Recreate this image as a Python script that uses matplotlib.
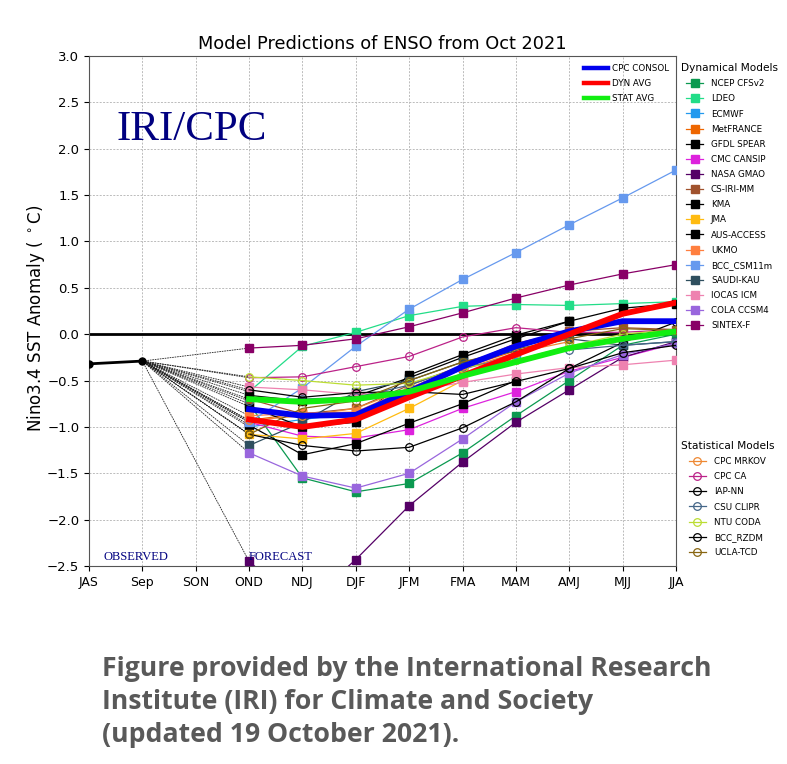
import matplotlib
matplotlib.use('Agg')
import matplotlib.pyplot as plt
import numpy as np

seasons = ['JAS', 'Sep', 'SON', 'OND', 'NDJ', 'DJF', 'JFM', 'FMA', 'MAM', 'AMJ', 'MJJ', 'JJA']
observed = [-0.32, -0.29]
nan = np.nan

# forecast values, OND through JJA
ncep = [-0.75, -1.55, -1.70, -1.61, -1.28, -0.88, -0.50, -0.12, 0.00]
ldeo = [-0.62, -0.13, 0.02, 0.20, 0.30, 0.32, 0.31, 0.33, 0.35]
ecmwf = [-1.00, -0.92, -0.85, -0.60, -0.38, -0.22, nan, nan, nan]
metfrance = [-0.93, -0.85, -0.88, -0.60, -0.36, -0.18, nan, nan, nan]
gfdl = [-0.78, -1.00, -0.95, -0.44, -0.22, -0.01, 0.14, 0.28, 0.33]
cansip = [-0.95, -1.10, -1.12, -1.03, -0.80, -0.62, -0.40, -0.25, -0.10]
gmao = [-2.45, -2.95, -2.43, -1.85, -1.38, -0.95, -0.60, -0.25, -0.08]
csiri = [-0.70, -0.86, -0.80, -0.55, -0.34, -0.10, 0.03, 0.07, 0.05]
kma = [-0.98, -1.30, -1.18, -0.96, -0.75, -0.50, nan, nan, nan]
jma = [-1.08, -1.13, -1.07, -0.80, -0.50, nan, nan, nan, nan]
access = [-0.66, -0.72, -0.67, -0.47, -0.25, -0.05, 0.14, nan, nan]
ukmo = [-0.88, -0.85, -0.84, -0.58, -0.35, nan, nan, nan, nan]
bcc_csm = [-0.95, -0.58, -0.13, 0.27, 0.59, 0.88, 1.18, 1.47, 1.77]
saudi = [-1.20, -0.95, -0.62, -0.50, -0.30, -0.18, -0.05, -0.12, -0.08]
iocas = [-0.57, -0.60, -0.65, -0.62, -0.52, -0.43, -0.36, -0.33, -0.28]
cola = [-1.28, -1.53, -1.66, -1.50, -1.13, -0.73, -0.42, -0.22, -0.10]
sintex = [-0.15, -0.12, -0.05, 0.08, 0.23, 0.39, 0.53, 0.65, 0.75]

mrkov = [-0.93, -0.88, -0.80, -0.58, -0.38, -0.20, -0.08, nan, nan]
cpc_ca = [-0.47, -0.46, -0.35, -0.24, -0.03, 0.07, 0.02, 0.02, 0.05]
iap = [-1.08, -1.20, -1.26, -1.22, -1.01, -0.73, -0.37, -0.09, 0.13]
clipr = [-0.72, -0.70, -0.68, -0.55, -0.35, -0.28, -0.17, -0.12, -0.08]
coda = [-0.46, -0.50, -0.55, -0.53, -0.36, -0.28, -0.13, 0.00, 0.05]
rzdm = [-0.60, -0.68, -0.63, -0.62, -0.65, -0.51, -0.37, -0.20, -0.12]
ucla = [-1.08, -0.80, -0.72, -0.50, -0.30, -0.16, -0.05, 0.06, 0.04]

consol = [-0.81, -0.88, -0.87, -0.62, -0.35, -0.13, 0.03, 0.14, 0.14]
dyn_avg = [-0.92, -1.00, -0.92, -0.68, -0.45, -0.22, 0.00, 0.22, 0.34]
stat_avg = [-0.70, -0.73, -0.70, -0.62, -0.45, -0.30, -0.15, -0.05, 0.03]

dyn_models = [
    ('NCEP CFSv2', ncep, '#0b9950'), ('LDEO', ldeo, '#22dd88'), ('ECMWF', ecmwf, '#2299ee'),
    ('MetFRANCE', metfrance, '#ee6600'), ('GFDL SPEAR', gfdl, '#000000'), ('CMC CANSIP', cansip, '#dd22dd'),
    ('NASA GMAO', gmao, '#550066'), ('CS-IRI-MM', csiri, '#a0522d'), ('KMA', kma, '#000000'),
    ('JMA', jma, '#ffbb11'), ('AUS-ACCESS', access, '#000000'), ('UKMO', ukmo, '#ff7f3f'),
    ('BCC_CSM11m', bcc_csm, '#6699ee'), ('SAUDI-KAU', saudi, '#2f4f5f'), ('IOCAS ICM', iocas, '#ee82b0'),
    ('COLA CCSM4', cola, '#9966dd'), ('SINTEX-F', sintex, '#880066'),
]
stat_models = [
    ('CPC MRKOV', mrkov, '#ee8833'), ('CPC CA', cpc_ca, '#bb2288'), ('IAP-NN', iap, '#000000'),
    ('CSU CLIPR', clipr, '#446688'), ('NTU CODA', coda, '#bbdd33'), ('BCC_RZDM', rzdm, '#000000'),
    ('UCLA-TCD', ucla, '#886611'),
]
averages = [('CPC CONSOL', consol, '#0000ee'), ('DYN AVG', dyn_avg, '#ff0000'), ('STAT AVG', stat_avg, '#11ee11')]

x = np.arange(len(seasons))
x_fc = x[3:]

plt.rcParams['axes.edgecolor'] = '#555555'

fig = plt.figure(figsize=(7.87, 7.64), dpi=100)
ax = fig.add_axes([89 / 787, 198 / 764, 587 / 787, 510 / 764])

dyn_handles = []
stat_handles = []
for name, vals, col in dyn_models:
    ax.plot([x[1], x_fc[0]], [observed[1], vals[0]], color='#222222', lw=0.6, ls=(0, (2, 1)), zorder=2)
    h, = ax.plot(x_fc, vals, color=col, lw=0.9, marker='s', ms=5.3, label=name, zorder=3)
    dyn_handles.append(h)
for name, vals, col in stat_models:
    ax.plot([x[1], x_fc[0]], [observed[1], vals[0]], color='#222222', lw=0.6, ls=(0, (2, 1)), zorder=2)
    h, = ax.plot(x_fc, vals, color=col, lw=0.9, marker='o', ms=5.5, mfc='none', mew=0.9, label=name, zorder=4)
    stat_handles.append(h)

avg_handles = []
for name, vals, col in averages:
    h, = ax.plot(x_fc, vals, color=col, lw=4.2, label=name, zorder=5)
    avg_handles.append(h)

ax.plot(x[:2], observed, color='k', lw=2, marker='o', ms=5, zorder=5)
ax.axhline(0, color='k', lw=2, zorder=2.5)

ax.set_xlim(0, 11)
ax.set_ylim(-2.5, 3.0)
ax.set_xticks(x)
ax.set_xticklabels(seasons, fontsize=9)
ax.set_yticks(np.arange(-2.5, 3.01, 0.5))
ax.tick_params(axis='y', labelsize=9.5)
ax.grid(True, color='#bbbbbb', ls=(0, (2, 1.5)), lw=0.7)
ax.set_axisbelow(True)
ax.set_ylabel(r'Nino3.4 SST Anomaly ( $^\circ$C)', fontsize=12)
ax.yaxis.set_label_coords(-0.072, 0.486)
ax.set_title('Model Predictions of ENSO from Oct 2021', fontsize=12.8, pad=5)

ax.text(0.28, -2.43, 'OBSERVED', family='Liberation Serif', fontsize=9, color='#000080')
ax.text(3.0, -2.43, 'FORECAST', family='Liberation Serif', fontsize=9, color='#000080')
ax.text(0.52, 2.09, 'IRI/CPC', family='Liberation Serif', fontsize=31, color='#000080')

leg_avg = ax.legend(handles=avg_handles, loc='upper right', bbox_to_anchor=(0.995, 0.992), frameon=False,
                    fontsize=6.3, labelspacing=0.7, handlelength=2.8, handletextpad=0.5, borderaxespad=0)
for line in leg_avg.get_lines():
    line.set_linewidth(3.2)
ax.add_artist(leg_avg)
leg_dyn = ax.legend(handles=dyn_handles, loc='upper left', bbox_to_anchor=(1.0077, 0.986), frameon=False,
                    fontsize=6.3, title='Dynamical Models', title_fontsize=7.6, labelspacing=0.7, markerscale=1.1,
                    handlelength=1.95, handletextpad=0.9, borderaxespad=0, borderpad=0)
ax.add_artist(leg_dyn)
ax.legend(handles=stat_handles, loc='upper left', bbox_to_anchor=(1.0077, 0.245), frameon=False,
          fontsize=6.3, title='Statistical Models', title_fontsize=7.6, labelspacing=0.7,
          handlelength=1.95, handletextpad=0.9, borderaxespad=0, borderpad=0)

caption = ['Figure provided by the International Research',
           'Institute (IRI) for Climate and Society',
           '(updated 19 October 2021).']
for line, py in zip(caption, [669, 702, 735]):
    fig.text(102 / 787, 1 - py / 764, line, family='Open Sans', fontweight='bold', fontsize=19.2,
             color='#595959', va='center')

fig.savefig('out.png', dpi=100)
plt.close(fig)
